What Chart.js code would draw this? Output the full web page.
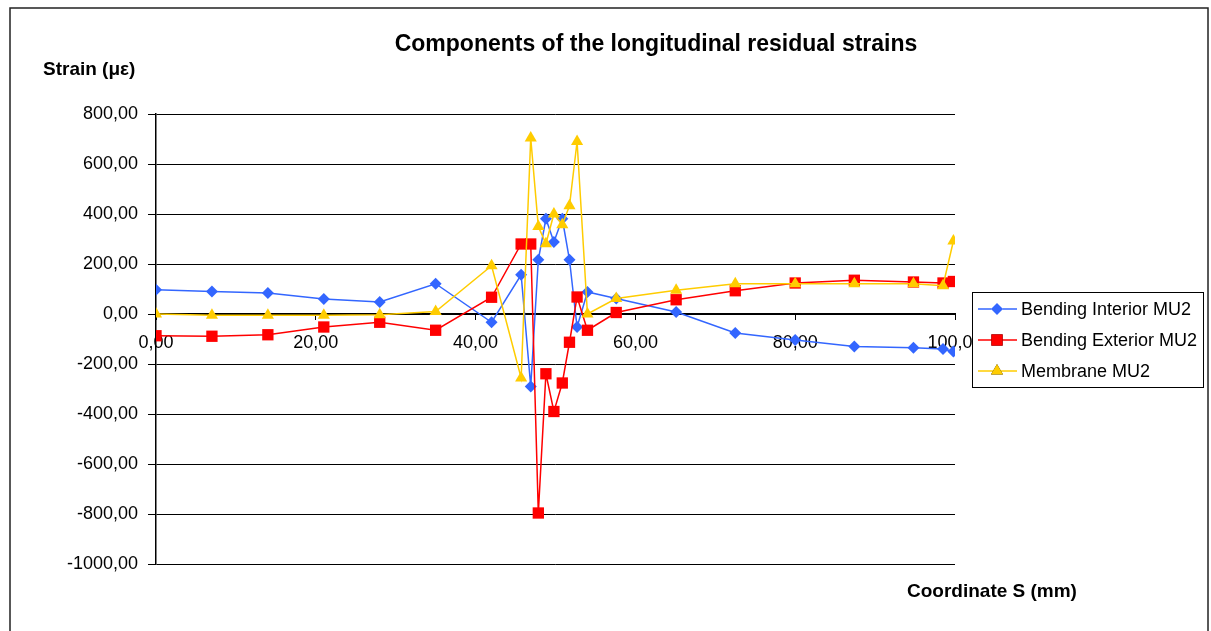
<!DOCTYPE html>
<html>
<head>
<meta charset="utf-8">
<script src="https://cdn.jsdelivr.net/npm/chart.js@4/dist/chart.umd.min.js"></script>
<style>
  html, body { margin: 0; padding: 0; background: #fff; }
  #wrap { position: relative; width: 1211px; height: 631px; }
  canvas { display: block; }
</style>
</head>
<body>
<div id="wrap"><canvas id="c" width="1211" height="631"></canvas></div>
<script>
// Coordinate along the section (mm)
const coordS = [0, 7, 14, 21, 28, 35, 42, 45.7, 46.9, 47.85, 48.8, 49.8, 50.85, 51.75,
                52.7, 54, 57.6, 65.1, 72.5, 80, 87.4, 94.8, 98.5, 99.8];
// Strain components (µε)
const bendingInterior = [97, 90, 84, 60, 48, 121, -33, 157, -290, 217, 381, 288, 381, 217,
                         -52, 88, 62, 8, -76, -104, -130, -135, -140, -150];
const bendingExterior = [-87, -89, -83, -52, -33, -65, 67, 280, 280, -796, -239, -390, -276, -113,
                         68, -65, 6, 57, 93, 124, 135, 128, 124, 130];
const membrane = [0, -5, -5, -5, -3, 10, 193, -256, 704, 350, 281, 400, 357, 433,
                  690, 0, 62, 95, 121, 121, 121, 121, 113, 292];
const yTicks = [-1000, -800, -600, -400, -200, 0, 200, 400, 600, 800];

const seriesNames = ['Bending Interior MU2', 'Bending Exterior MU2', 'Membrane MU2'];
const FONT = '"Liberation Sans", Arial, sans-serif';
const fmt = v => Number(v).toFixed(2).replace('.', ',');
const toPts = arr => arr.map((v, i) => ({ x: coordS[i], y: v }));

const datasets = [
  { label: seriesNames[0], data: toPts(bendingInterior), borderColor: '#3366FF', backgroundColor: '#3366FF',
    pointStyle: 'rectRot', pointRadius: 6, borderWidth: 1.5, order: 3 },
  { label: seriesNames[1], data: toPts(bendingExterior), borderColor: '#FF0000', backgroundColor: '#FF0000',
    pointStyle: 'rect', pointRadius: 8, borderWidth: 1.5, order: 2 },
  { label: seriesNames[2], data: toPts(membrane), borderColor: '#FFCC00', backgroundColor: '#FFCC00',
    pointStyle: 'triangle', pointRadius: 7, borderWidth: 1.5, order: 1 }
].map(d => Object.assign(d, { pointBorderWidth: 0, tension: 0, fill: false, pointHoverRadius: d.pointRadius }));

// Frame, titles and legend drawn on the canvas
const decor = {
  id: 'decor',
  beforeDraw(chart) {
    const ctx = chart.ctx;
    ctx.save();
    ctx.fillStyle = '#fff';
    ctx.fillRect(0, 0, chart.width, chart.height);
    ctx.strokeStyle = '#222';
    ctx.lineWidth = 1.5;
    ctx.strokeRect(10, 8, 1198, 640);
    ctx.restore();
  },
  afterDraw(chart) {
    const ctx = chart.ctx;
    ctx.save();
    ctx.fillStyle = '#000';
    ctx.textBaseline = 'middle';
    ctx.font = 'bold 23px ' + FONT;
    ctx.textAlign = 'center';
    ctx.fillText('Components of the longitudinal residual strains', 656, 45);
    ctx.font = 'bold 19px ' + FONT;
    ctx.textAlign = 'left';
    ctx.fillText('Strain (\u03bc\u03b5)', 43, 70);
    ctx.fillText('Coordinate S (mm)', 907, 592);

    // legend box
    const lx = 972, ly = 292, lw = 231, lh = 95;
    ctx.fillStyle = '#fff';
    ctx.fillRect(lx, ly, lw, lh);
    ctx.strokeStyle = '#000';
    ctx.lineWidth = 1;
    ctx.strokeRect(lx + 0.5, ly + 0.5, lw, lh);
    ctx.font = '18px ' + FONT;
    chart.data.datasets.forEach((ds, i) => {
      const y = 309 + i * 31;
      ctx.strokeStyle = ds.borderColor;
      ctx.lineWidth = 1.5;
      ctx.beginPath();
      ctx.moveTo(978, y);
      ctx.lineTo(1017, y);
      ctx.stroke();
      Chart.helpers.drawPoint(ctx, {
        pointStyle: ds.pointStyle, radius: ds.pointRadius, rotation: 0, borderWidth: 0
      }, 997, y);
      ctx.fillStyle = ds.backgroundColor;
      ctx.fill();
      ctx.fillStyle = '#000';
      ctx.fillText(ds.label, 1021, y + 1);
    });
    ctx.restore();
  }
};

new Chart(document.getElementById('c'), {
  type: 'line',
  data: { datasets },
  options: {
    responsive: false,
    animation: false,
    events: [],
    layout: { padding: { left: 46, right: 256, top: 114, bottom: 67 } },
    plugins: { legend: { display: false }, title: { display: false }, tooltip: { enabled: false } },
    scales: {
      x: {
        type: 'linear',
        min: 0, max: 100,
        position: { y: 0 },
        border: { color: '#000', width: 2 },
        grid: { drawOnChartArea: false, drawTicks: true, tickLength: 5, color: '#000' },
        ticks: { stepSize: 20, color: '#000', padding: 13, maxRotation: 0,
                 font: { family: FONT, size: 18 }, callback: v => fmt(v) }
      },
      y: {
        type: 'linear',
        min: yTicks[0], max: yTicks[yTicks.length - 1],
        afterFit: s => { s.width = 110; },
        afterBuildTicks: s => { s.ticks = yTicks.map(v => ({ value: v })); },
        border: { color: '#000', width: 1.5 },
        grid: { color: '#000', lineWidth: 1, drawTicks: true, tickLength: 8 },
        ticks: { color: '#000', padding: 10, font: { family: FONT, size: 18 }, callback: v => fmt(v) }
      }
    }
  },
  plugins: [decor]
});
</script>
</body>
</html>
